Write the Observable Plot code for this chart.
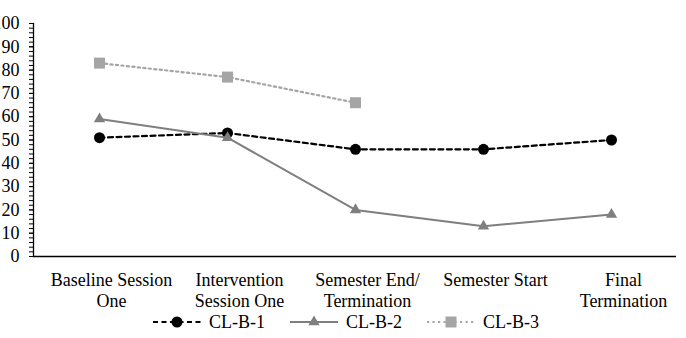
<!DOCTYPE html>
<html>
<head>
<meta charset="utf-8">
<script src="https://cdn.jsdelivr.net/npm/d3@7"></script>
<script src="https://cdn.jsdelivr.net/npm/@observablehq/plot@0.6"></script>
<style>
  html, body { margin: 0; padding: 0; background: white; }
  body { width: 686px; height: 338px; overflow: hidden; font-family: "Liberation Serif", "Times New Roman", serif; }
  #legend { display: flex; justify-content: center; align-items: center; gap: 25px; height: 20px; font-size: 18px; color: black; margin-left: 6px; }
  #legend .item { display: flex; align-items: center; gap: 8px; }
  #legend svg { display: block; }
</style>
</head>
<body>
<div id="chart"></div>
<div id="legend"></div>
<script>
// Session labels along the x axis
const categories = [
  "Baseline Session\nOne",
  "Intervention\nSession One",
  "Semester End/\nTermination",
  "Semester Start",
  "Final\nTermination"
];

// Scores per participant
const clb1 = [51, 53, 46, 46, 50];
const clb2 = [59, 51, 20, 13, 18];
const clb3 = [83, 77, 66];

// Y axis ticks
const yTicks = [0, 10, 20, 30, 40, 50, 60, 70, 80, 90, 100];
const yMinorTicks = [0, 2, 4, 6, 8, 10, 12, 14, 16, 18, 20, 22, 24, 26, 28, 30, 32, 34, 36, 38, 40,
  42, 44, 46, 48, 50, 52, 54, 56, 58, 60, 62, 64, 66, 68, 70, 72, 74, 76, 78, 80,
  82, 84, 86, 88, 90, 92, 94, 96, 98, 100];

const series = [
  {name: "CL-B-1", values: clb1, stroke: "#000000", fill: "#000000", dash: "5,3.5", width: 2.2, symbol: "circle", r: 5.5},
  {name: "CL-B-2", values: clb2, stroke: "#7f7f7f", fill: "#7f7f7f", dash: null, width: 2, symbol: "triangle", r: 4.2},
  {name: "CL-B-3", values: clb3, stroke: "#a5a5a5", fill: "#a5a5a5", dash: "2.2,3.3", width: 2.2, symbol: "square", r: 6.2}
];

const rows = s => s.values.map((v, i) => ({category: categories[i], value: v}));

const seriesMarks = series.flatMap(s => [
  Plot.line(rows(s), {x: "category", y: "value", stroke: s.stroke, strokeWidth: s.width, strokeDasharray: s.dash}),
  Plot.dot(rows(s), {x: "category", y: "value", symbol: () => s.symbol, r: s.r, fill: s.fill, stroke: "none"})
]);

const chart = Plot.plot({
  width: 686,
  height: 312,
  marginLeft: 33,
  marginRight: 10,
  marginTop: 23,
  marginBottom: 56,
  style: {fontFamily: "'Liberation Serif', 'Times New Roman', serif", fontSize: "18px", color: "black", background: "white", overflow: "visible"},
  x: {type: "point", domain: categories, padding: 0.5, label: null},
  y: {domain: [0, 100], label: null},
  symbol: {type: "identity"},
  marks: [
    Plot.axisY({ticks: yMinorTicks, tickSize: 4, tickFormat: () => "", label: null}),
    Plot.axisY({ticks: yTicks, tickSize: 4, tickPadding: 10, fontSize: 18, label: null}),
    Plot.axisX({tickSize: 0, tickPadding: 14, lineHeight: 1.18, fontSize: 18, dx: 12, label: null}),
    Plot.frame({anchor: "left", stroke: "black", strokeWidth: 1.3}),
    Plot.ruleY([0], {stroke: "black", strokeWidth: 1.3}),
    ...seriesMarks
  ]
});
document.getElementById("chart").appendChild(chart);

// Legend row under the plot
const legend = d3.select("#legend");
for (const s of series) {
  const item = legend.append("div").attr("class", "item");
  const sw = item.append("svg").attr("width", 48).attr("height", 14);
  sw.append("line").attr("x1", 0).attr("x2", 48).attr("y1", 7).attr("y2", 7)
    .attr("stroke", s.stroke).attr("stroke-width", s.width)
    .attr("stroke-dasharray", s.dash);
  const sym = d3.symbol(s.symbol === "circle" ? d3.symbolCircle : s.symbol === "triangle" ? d3.symbolTriangle : d3.symbolSquare,
    Math.PI * s.r * s.r);
  sw.append("path").attr("d", sym()).attr("transform", "translate(24,7)").attr("fill", s.fill);
  item.append("span").text(s.name);
}
</script>
</body>
</html>
